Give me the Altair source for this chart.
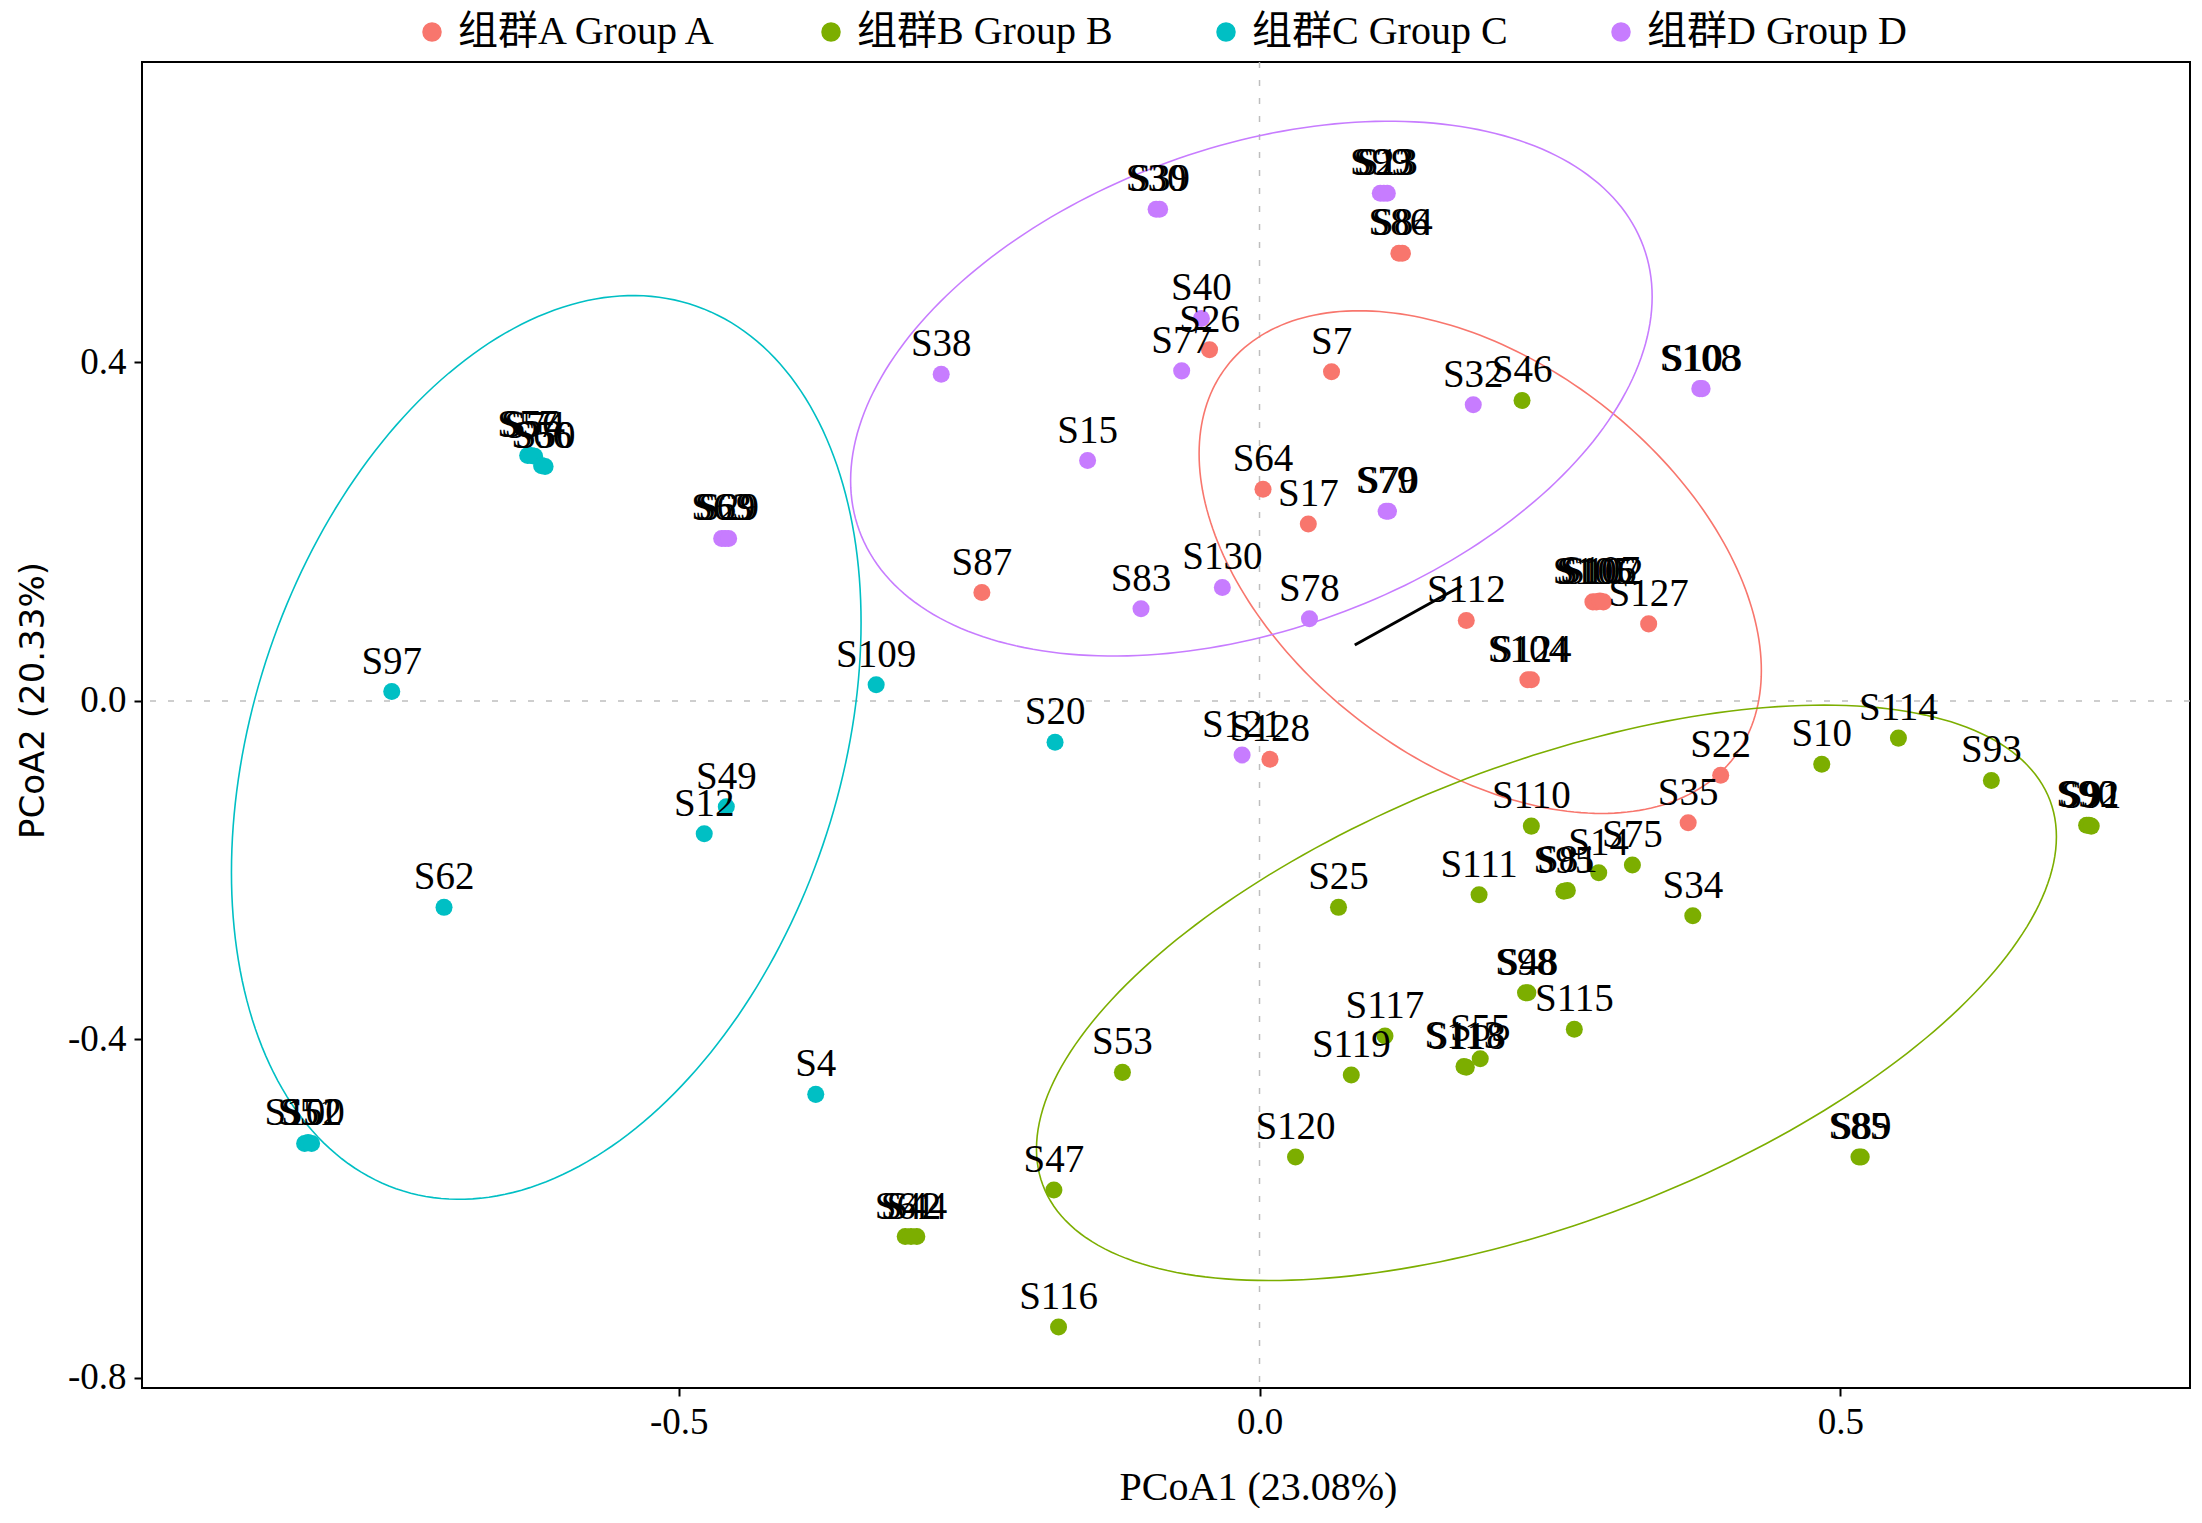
import altair as alt
import numpy as np
import pandas as pd

# ---------------- data ----------------
groups = ["组群A Group A", "组群B Group B", "组群C Group C", "组群D Group D"]
colors = ["#F8766D", "#7CAE00", "#00BFC4", "#C77CFF"]

a_names = ["S86", "S84", "S26", "S7", "S64", "S17", "S87", "S112", "S105", "S106", "S107", "S102",
           "S127", "S104", "S124", "S128", "S22", "S35"]
a_x = [0.120, 0.123, -0.043, 0.062, 0.003, 0.042, -0.239, 0.178, 0.287, 0.290, 0.293, 0.296,
       0.335, 0.231, 0.234, 0.009, 0.397, 0.369]
a_y = [0.529, 0.529, 0.415, 0.389, 0.250, 0.209, 0.128, 0.095, 0.117, 0.117, 0.118, 0.117,
       0.091, 0.025, 0.025, -0.069, -0.088, -0.144]

b_names = ["S46", "S10", "S114", "S93", "S90", "S92", "S91", "S110", "S75", "S14", "S95", "S81",
           "S111", "S25", "S34", "S98", "S48", "S115", "S117", "S55", "S113", "S118", "S119",
           "S53", "S120", "S85", "S89", "S47", "S61", "S44", "S42", "S116"]
b_x = [0.226, 0.484, 0.550, 0.630, 0.712, 0.714, 0.716, 0.234, 0.321, 0.292, 0.262, 0.265,
       0.189, 0.068, 0.373, 0.229, 0.231, 0.271, 0.108, 0.190, 0.176, 0.178, 0.079,
       -0.118, 0.031, 0.516, 0.518, -0.177, -0.305, -0.295, -0.300, -0.173]
b_y = [0.355, -0.075, -0.044, -0.094, -0.147, -0.147, -0.148, -0.148, -0.194, -0.203, -0.225, -0.224,
       -0.229, -0.244, -0.254, -0.345, -0.345, -0.388, -0.396, -0.423, -0.432, -0.433, -0.442,
       -0.439, -0.539, -0.539, -0.539, -0.578, -0.633, -0.633, -0.633, -0.740]

c_names = ["S57", "S56", "S74", "S66", "S50", "S97", "S109", "S20", "S49", "S12", "S62", "S4",
           "S100", "S51", "S52"]
c_x = [-0.630, -0.627, -0.624, -0.618, -0.615, -0.747, -0.330, -0.176, -0.459, -0.478, -0.702, -0.382,
       -0.822, -0.819, -0.816]
c_y = [0.290, 0.290, 0.289, 0.278, 0.277, 0.011, 0.019, -0.049, -0.125, -0.157, -0.244, -0.465,
       -0.523, -0.522, -0.523]

d_names = ["S30", "S39", "S99", "S23", "S13", "S40", "S77", "S38", "S32", "S108", "S103", "S15",
           "S79", "S70", "S130", "S83", "S78", "S121", "S63", "S69", "S29"]
d_x = [-0.089, -0.086, 0.104, 0.107, 0.110, -0.050, -0.067, -0.274, 0.184, 0.379, 0.381, -0.148,
       0.109, 0.111, -0.032, -0.102, 0.043, -0.015, -0.463, -0.460, -0.457]
d_y = [0.581, 0.581, 0.600, 0.600, 0.600, 0.452, 0.390, 0.386, 0.350, 0.369, 0.369, 0.284,
       0.224, 0.224, 0.134, 0.109, 0.097, -0.064, 0.192, 0.192, 0.192]

# ellipse parameters per group: centre, half-extent in x and y, covariance term
ell_cx = [0.190, 0.247, -0.614, -0.007]
ell_cy = [0.164, -0.345, -0.055, 0.369]
ell_hx = [0.242, 0.439, 0.271, 0.345]
ell_hy = [0.297, 0.340, 0.534, 0.316]
ell_cxy = [-0.031, 0.081, 0.040, 0.0375]

# stray black segment in the figure
seg_x = [0.082, 0.174]
seg_y = [0.066, 0.136]

x_ticks = [-0.5, 0.0, 0.5]
y_ticks = [-0.8, -0.4, 0.0, 0.4]
x_domain = [-0.962, 0.801]
y_domain = [-0.812, 0.755]

# ---------------- tables ----------------
rows = []
for g, names, xs, ys in zip(groups, [a_names, b_names, c_names, d_names],
                            [a_x, b_x, c_x, d_x], [a_y, b_y, c_y, d_y]):
    for n, xv, yv in zip(names, xs, ys):
        rows.append({"name": n, "group": g, "x": xv, "y": yv})
pts = pd.DataFrame(rows)

t = np.linspace(0, 2 * np.pi, 241)
ell_tables = []
for cx, cy, hx, hy, cxy in zip(ell_cx, ell_cy, ell_hx, ell_hy, ell_cxy):
    S = np.array([[hx ** 2, cxy], [cxy, hy ** 2]])
    L = np.linalg.cholesky(S)
    xy = L @ np.vstack([np.cos(t), np.sin(t)])
    ell_tables.append(pd.DataFrame({"i": np.arange(len(t)), "x": cx + xy[0], "y": cy + xy[1]}))

seg = pd.DataFrame({"x": [seg_x[0]], "x2": [seg_x[1]], "y": [seg_y[0]], "y2": [seg_y[1]]})

SERIF = "Liberation Serif, Noto Sans CJK SC"

xscale = alt.Scale(domain=x_domain, nice=False, zero=False)
yscale = alt.Scale(domain=y_domain, nice=False, zero=False)

minus_expr = "datum.value < 0 ? '-' + format(-datum.value, '.1f') : format(datum.value, '.1f')"

x_axis = alt.Axis(values=x_ticks, labelExpr=minus_expr, grid=False, domain=False,
                  tickSize=8, tickWidth=2, tickColor="black",
                  labelFont=SERIF, labelFontSize=37, labelColor="black", labelPadding=8,
                  title="PCoA1 (23.08%)", titleFont=SERIF, titleFontSize=40,
                  titleFontWeight="normal", titleColor="black",
                  titleX=1116, titleY=111, titleAlign="center", titleBaseline="alphabetic")
y_axis = alt.Axis(values=y_ticks, labelExpr=minus_expr, grid=False, domain=False,
                  tickSize=8, tickWidth=2, tickColor="black",
                  labelFont=SERIF, labelFontSize=37, labelColor="black", labelPadding=8,
                  title="PCoA2 (20.33%)", titleFont="DejaVu Sans", titleFontSize=34,
                  titleFontWeight="normal", titleColor="black",
                  titleX=-99, titleY=638, titleAlign="center", titleBaseline="alphabetic")

base_x = alt.X("x:Q", scale=xscale, axis=x_axis)
base_y = alt.Y("y:Q", scale=yscale, axis=y_axis)

zero_v = alt.Chart(pd.DataFrame({"x": [0.0]})).mark_rule(
    color="#BEBEBE", strokeWidth=1.5, strokeDash=[6, 12]).encode(
    x=alt.X("x:Q", scale=xscale))
zero_h = alt.Chart(pd.DataFrame({"y": [0.0]})).mark_rule(
    color="#BEBEBE", strokeWidth=1.5, strokeDash=[6, 12]).encode(
    y=alt.Y("y:Q", scale=yscale))

ellipse_layers = [
    alt.Chart(tbl).mark_line(strokeWidth=1.6, color=col).encode(
        x=alt.X("x:Q", scale=xscale),
        y=alt.Y("y:Q", scale=yscale),
        order="i:Q",
    )
    for tbl, col in zip(ell_tables, colors)
]

points = alt.Chart(pts).mark_circle(size=290, opacity=1).encode(
    x=base_x,
    y=base_y,
    color=alt.Color("group:N", scale=alt.Scale(domain=groups, range=colors),
                    legend=alt.Legend(title=None, orient="none", direction="horizontal",
                                      legendX=270, legendY=-50,
                                      symbolType="circle", symbolSize=380, symbolStrokeWidth=0,
                                      symbolOpacity=1,
                                      labelFont=SERIF, labelFontSize=40, labelColor="black",
                                      labelOffset=6, columnPadding=93, labelLimit=500)),
)

labels = alt.Chart(pts).mark_text(font="Liberation Serif", fontSize=39, color="black",
                                  baseline="alphabetic", align="center", dy=-18).encode(
    x=alt.X("x:Q", scale=xscale),
    y=alt.Y("y:Q", scale=yscale),
    text="name:N",
)

segment = alt.Chart(seg).mark_rule(color="black", strokeWidth=3).encode(
    x=alt.X("x:Q", scale=xscale), x2="x2:Q",
    y=alt.Y("y:Q", scale=yscale), y2="y2:Q",
)

chart = alt.layer(zero_v, zero_h, *ellipse_layers, points, labels, segment).properties(
    width=2048, height=1326,
    autosize=alt.AutoSizeParams(type="none"),
    padding={"left": 134, "top": 54, "right": 4, "bottom": 120},
    background="white",
).configure_view(stroke="black", strokeWidth=2)

chart.save("out.html", embed_options={"renderer": "svg", "actions": False})
